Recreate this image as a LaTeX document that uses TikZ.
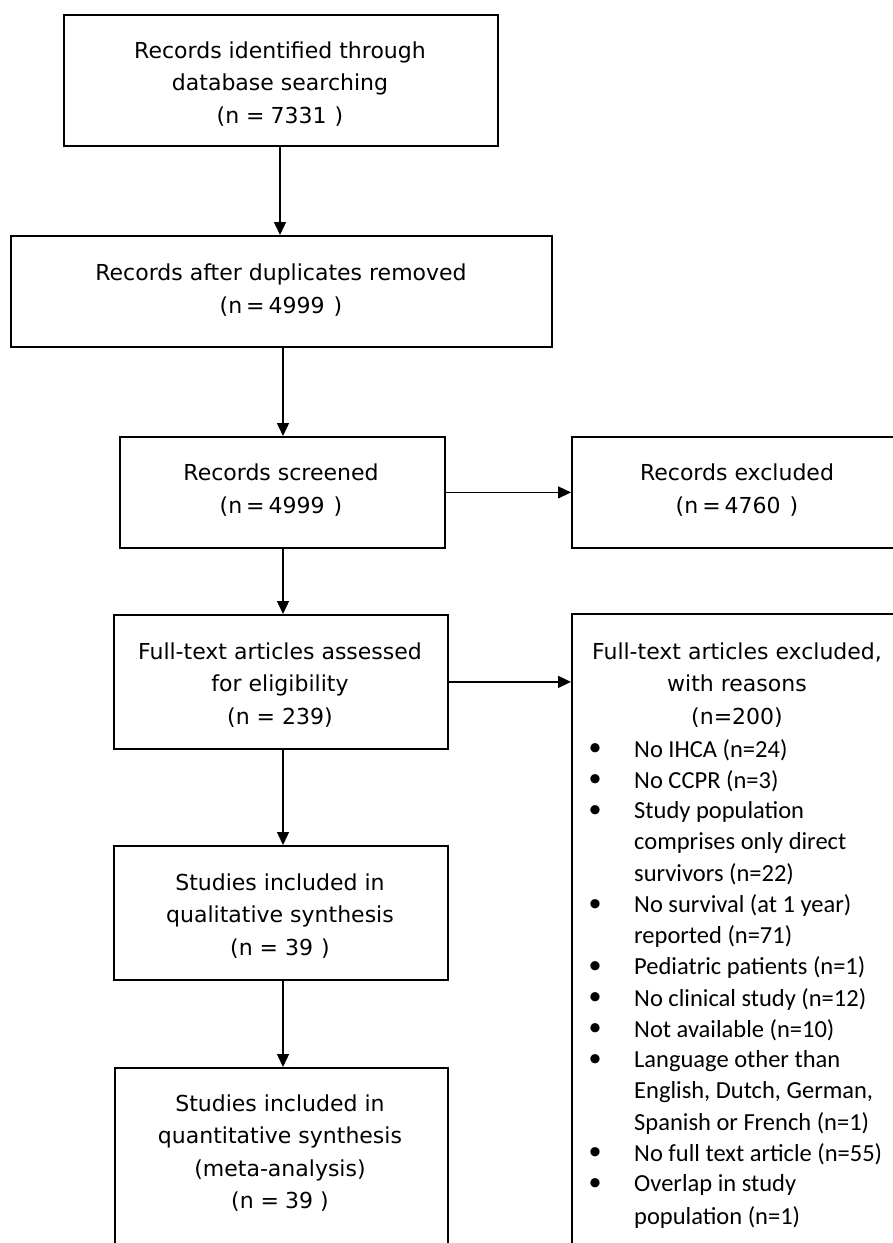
\documentclass[tikz,border=0pt]{standalone}
\usepackage{fontspec}
\setmainfont{DejaVu Sans}
\newfontfamily\calfont{Carlito}
\usetikzlibrary{arrows.meta}
\tikzset{
 box/.style={draw, line width=1.8pt, anchor=north west, inner sep=0pt},
 lbl/.style={align=center, font=\fontsize{22}{32.5}\selectfont, inner sep=0pt},
 itm/.style={anchor=west, font=\calfont\fontsize{24.5}{31}\selectfont, inner sep=0pt},
 bul/.style={font=\calfont\fontsize{26}{31}\selectfont, inner sep=0pt},
 arr/.style={line width=1.4pt, -{Triangle[width=12pt,length=13pt]}},
}
\begin{document}
\begin{tikzpicture}[x=1pt,y=1pt]
\useasboundingbox (0,0) rectangle (893,-1243);
\fill[white] (0,0) rectangle (893,-1243);
\clip (0,0) rectangle (893,-1243);
% boxes
\node[box, minimum width=434pt, minimum height=131pt] (b1) at (63,-14) {};
\node[box, minimum width=541pt, minimum height=111pt] (b2) at (10,-235) {};
\node[box, minimum width=325pt, minimum height=111pt] (b3) at (119,-436) {};
\node[box, minimum width=332pt, minimum height=111pt] (ex1) at (571,-436) {};
\node[box, minimum width=334pt, minimum height=134pt] (b4) at (113,-614) {};
\node[box, minimum width=332pt, minimum height=660pt] (ex2) at (571,-613) {};
\node[box, minimum width=334pt, minimum height=134pt] (b5) at (113,-845) {};
\node[box, minimum width=333pt, minimum height=200pt] (b6) at (114,-1067) {};
% texts
\node[lbl] (b1t) at (280,-84) {Records identified through\\database searching\\(n =\hspace{6pt}7331\hspace{8pt})};
\node[lbl] (b2t) at (281,-290) {Records after duplicates removed\\(n\hspace{4pt}=\hspace{4pt}4999\hspace{9pt})};
\node[lbl] (b3t) at (281,-490) {Records screened\\(n\hspace{4pt}=\hspace{4pt}4999\hspace{9pt})};
\node[lbl] (ex1t) at (737,-490) {Records excluded\\(n\hspace{4pt}=\hspace{4pt}4760\hspace{9pt})};
\node[lbl] (b4t) at (280,-685) {Full-text articles assessed\\for eligibility\\(n = 239)};
\node[lbl] (b5t) at (280,-916) {Studies included in\\qualitative synthesis\\(n = 39\hspace{8pt})};
\node[lbl] (b6t) at (280,-1153) {Studies included in\\quantitative synthesis\\(meta-analysis)\\(n =\hspace{6pt}39 )};
\node[lbl] (ex2h) at (737,-685) {Full-text articles excluded,\\with reasons\\(n=200)};
% items
\node[bul] (u1) at (595,-750) {•};
\node[itm] (i1) at (634,-750) {No IHCA (n=24)};
\node[bul] (u2) at (595,-781) {•};
\node[itm] (i2) at (634,-781) {No CCPR (n=3)};
\node[bul] (u3) at (595,-812) {•};
\node[itm] (i3a) at (634,-812) {Study population};
\node[itm] (i3b) at (634,-843) {comprises only direct};
\node[itm] (i3c) at (634,-874) {survivors (n=22)};
\node[bul] (u4) at (595,-906) {•};
\node[itm] (i4a) at (634,-906) {No survival (at 1 year)};
\node[itm] (i4b) at (634,-937) {reported (n=71)};
\node[bul] (u5) at (595,-968) {•};
\node[itm] (i5) at (634,-968) {Pediatric patients (n=1)};
\node[bul] (u6) at (595,-999) {•};
\node[itm] (i6) at (634,-999) {No clinical study (n=12)};
\node[bul] (u7) at (595,-1030) {•};
\node[itm] (i7) at (634,-1030) {Not available (n=10)};
\node[bul] (u8) at (595,-1061) {•};
\node[itm] (i8a) at (634,-1061) {Language other than};
\node[itm] (i8b) at (634,-1092) {English, Dutch, German,};
\node[itm] (i8c) at (634,-1123) {Spanish or French (n=1)};
\node[bul] (u9) at (595,-1154) {•};
\node[itm] (i9) at (634,-1154) {No full text article (n=55)};
\node[bul] (u10) at (595,-1185) {•};
\node[itm] (i10a) at (634,-1185) {Overlap in study};
\node[itm] (i10b) at (634,-1217) {population (n=1)};
% connectors
\coordinate (ax) at (283,0);
\coordinate (ax1) at (280,0);
\draw[arr] (b1.south -| ax1) -- (b2.north -| ax1);
\draw[arr] (b2.south -| ax) -- (b3.north -| ax);
\draw[arr] (b3.south -| ax) -- (b4.north -| ax);
\draw[arr] (b4.south -| ax) -- (b5.north -| ax);
\draw[arr] (b5.south -| ax) -- (b6.north -| ax);
\draw[arr] (b3.east) -- (b3.east -| ex1.west);
\draw[arr] (b4.east) -- (b4.east -| ex2.west);
\end{tikzpicture}
\end{document}
